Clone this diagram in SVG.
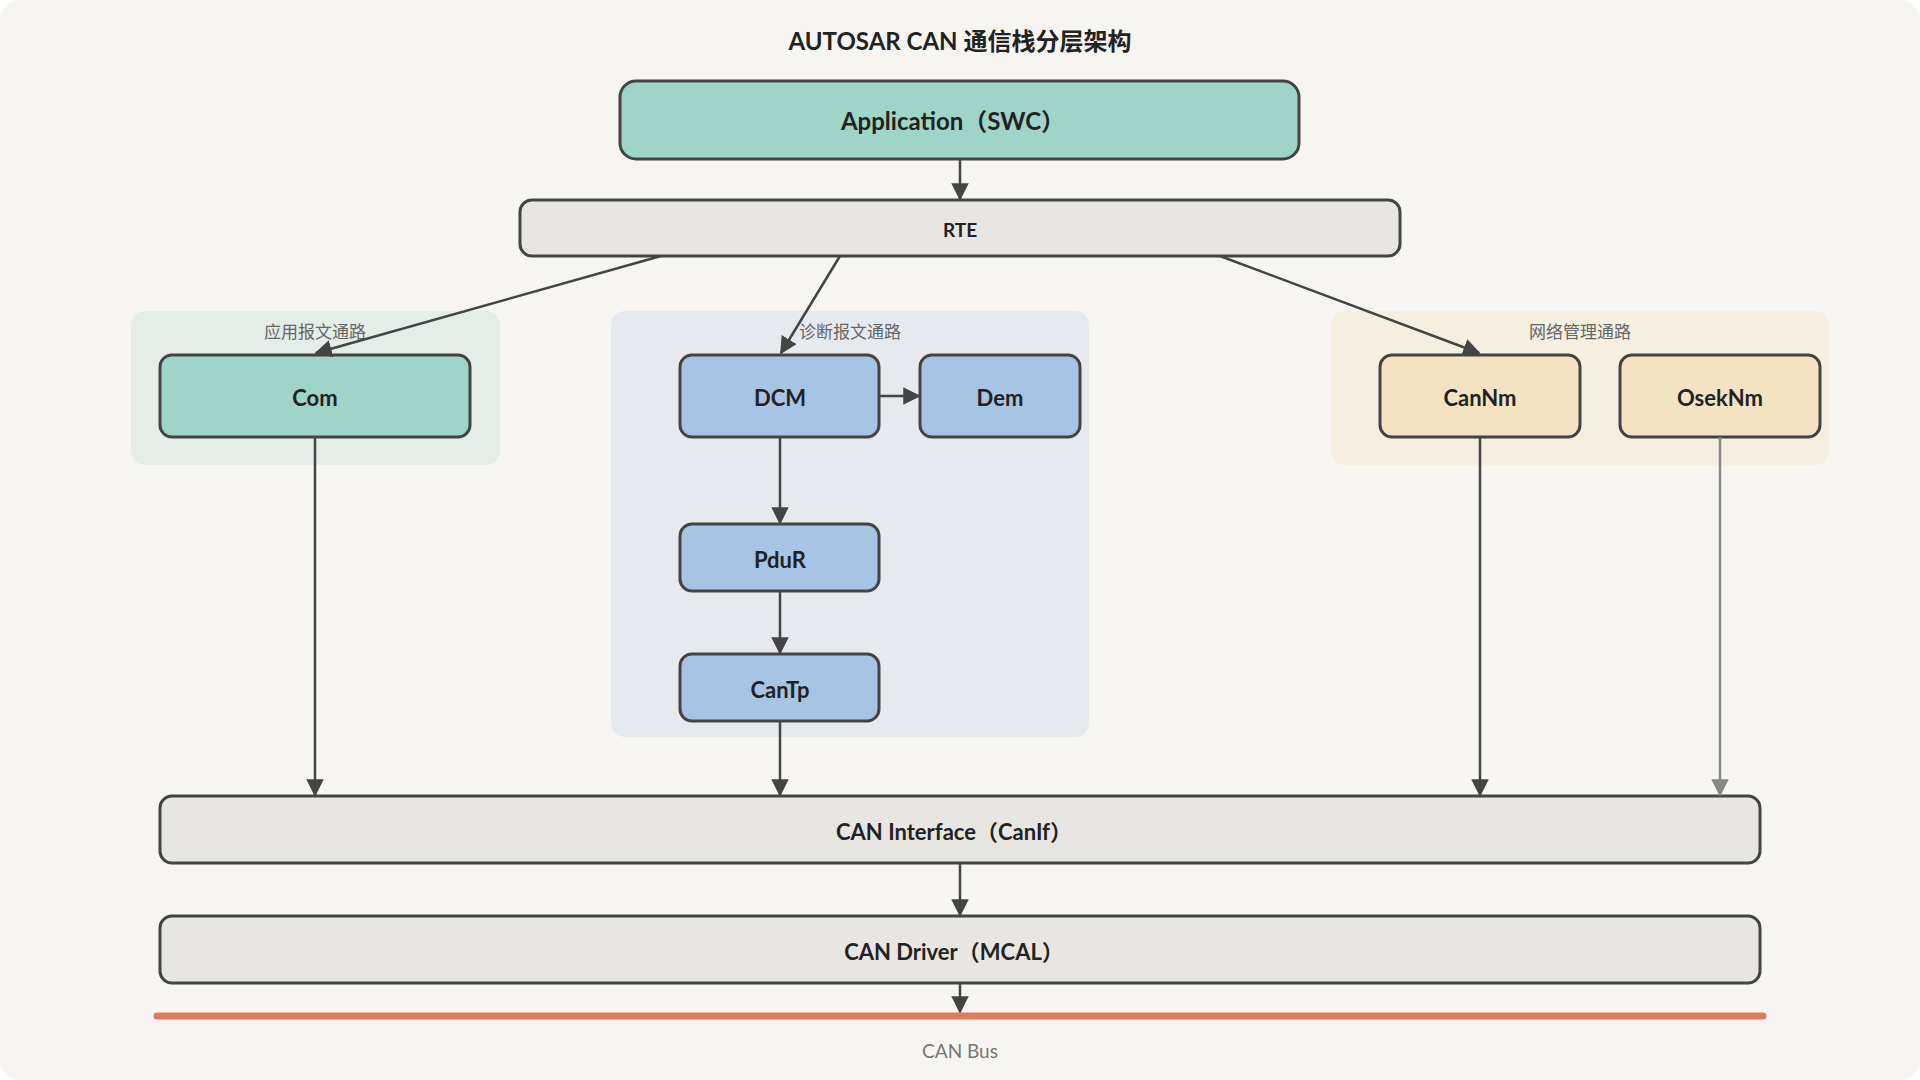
<svg xmlns="http://www.w3.org/2000/svg" width="1920" height="1080" viewBox="0 0 1920 1080">
<defs>
<marker id="ah" viewBox="0 0 10 10" refX="9" refY="5" markerWidth="7" markerHeight="7" orient="auto-start-reverse"><path d="M0,0 L10,5 L0,10 z" fill="#444"/></marker>
<marker id="ahg" viewBox="0 0 10 10" refX="9" refY="5" markerWidth="7" markerHeight="7" orient="auto-start-reverse"><path d="M0,0 L10,5 L0,10 z" fill="#888"/></marker>
<style>
.n{stroke:#444;stroke-width:3}
.t{font-family:"Lato","Noto Sans","Noto Sans CJK SC",sans-serif;font-weight:bold;fill:#222;text-anchor:middle;dominant-baseline:central}
.g{font-family:"Noto Sans CJK SC",sans-serif;font-size:17px;fill:#666;text-anchor:middle}
.c{stroke:#444;stroke-width:2.5;fill:none;marker-end:url(#ah)}
</style>
</defs>
<rect x="0" y="0" width="1920" height="1080" rx="20" fill="#f6f5f1"/>
<text x="960" y="40" class="t" font-size="24" font-family="Noto Sans CJK SC">AUTOSAR CAN 通信栈分层架构</text>
<g id="grp-app"><rect x="131" y="311" width="369" height="154" rx="14" fill="#e4ede7"/><text x="315" y="338" class="g">应用报文通路</text></g>
<g id="grp-diag"><rect x="611" y="311" width="478" height="426" rx="14" fill="#e6eaee"/><text x="850" y="338" class="g">诊断报文通路</text></g>
<g id="grp-nm"><rect x="1331" y="311" width="498" height="154" rx="14" fill="#f5efe0"/><text x="1580" y="338" class="g">网络管理通路</text></g>
<g id="app"><rect x="620" y="81" width="679" height="78" rx="16" fill="#9fd5c8" class="n"/><text x="953" y="120" class="t" font-size="24">Application（SWC）</text></g>
<g id="rte"><rect x="520" y="200" width="880" height="56" rx="12" fill="#e8e6e2" class="n"/><text x="960" y="229" class="t" font-size="19">RTE</text></g>
<g id="com"><rect x="160" y="355" width="310" height="82" rx="12" fill="#9fd5c8" class="n"/><text x="315" y="397" class="t" font-size="22">Com</text></g>
<g id="dcm"><rect x="680" y="355" width="199" height="82" rx="12" fill="#a8c4e5" class="n"/><text x="780" y="397" class="t" font-size="22">DCM</text></g>
<g id="dem"><rect x="920" y="355" width="160" height="82" rx="12" fill="#a8c4e5" class="n"/><text x="1000" y="397" class="t" font-size="22">Dem</text></g>
<g id="pdur"><rect x="680" y="524" width="199" height="67" rx="12" fill="#a8c4e5" class="n"/><text x="780" y="559" class="t" font-size="22">PduR</text></g>
<g id="cantp"><rect x="680" y="654" width="199" height="67" rx="12" fill="#a8c4e5" class="n"/><text x="780" y="689" class="t" font-size="22">CanTp</text></g>
<g id="cannm"><rect x="1380" y="355" width="200" height="82" rx="12" fill="#f4e3c2" class="n"/><text x="1480" y="397" class="t" font-size="22">CanNm</text></g>
<g id="oseknm"><rect x="1620" y="355" width="200" height="82" rx="12" fill="#f4e3c2" class="n"/><text x="1720" y="397" class="t" font-size="22">OsekNm</text></g>
<g id="canif"><rect x="160" y="796" width="1600" height="67" rx="12" fill="#e8e6e2" class="n"/><text x="954" y="831" class="t" font-size="22">CAN Interface（CanIf）</text></g>
<g id="candrv"><rect x="160" y="916" width="1600" height="67" rx="12" fill="#e8e6e2" class="n"/><text x="954" y="951" class="t" font-size="22">CAN Driver（MCAL）</text></g>
<g id="bus"><line x1="157" y1="1016" x2="1763" y2="1016" stroke="#e07a5f" stroke-width="7" stroke-linecap="round"/><text x="960" y="1058" font-family="Lato,sans-serif" font-size="19" fill="#777" text-anchor="middle">CAN Bus</text></g>
<g id="connectors">
<line x1="960" y1="159" x2="960" y2="199" class="c"/>
<line x1="661" y1="256" x2="316" y2="353" class="c"/>
<line x1="840" y1="256" x2="781" y2="353" class="c"/>
<line x1="1220" y1="256" x2="1479" y2="353" class="c"/>
<line x1="879" y1="396" x2="919" y2="396" class="c"/>
<line x1="780" y1="437" x2="780" y2="523" class="c"/>
<line x1="780" y1="591" x2="780" y2="653" class="c"/>
<line x1="780" y1="721" x2="780" y2="795" class="c"/>
<line x1="315" y1="437" x2="315" y2="795" class="c"/>
<line x1="1480" y1="437" x2="1480" y2="795" class="c"/>
<line x1="1720" y1="437" x2="1720" y2="795" stroke="#888" stroke-width="2.5" marker-end="url(#ahg)"/>
<line x1="960" y1="863" x2="960" y2="915" class="c"/>
<line x1="960" y1="983" x2="960" y2="1012" class="c"/>
</g>
</svg>
